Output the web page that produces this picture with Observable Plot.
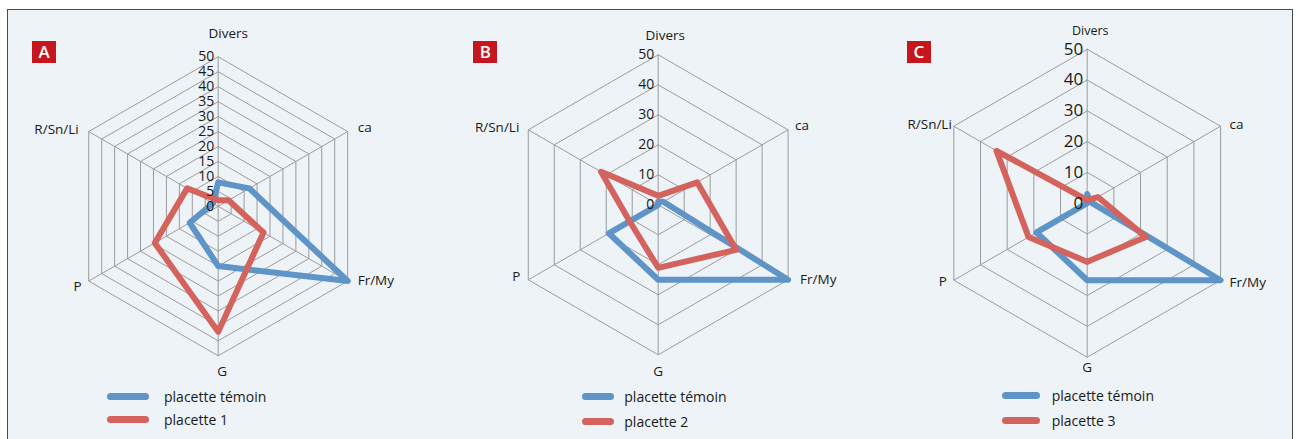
<!DOCTYPE html>
<html>
<head>
<meta charset="utf-8">
<script src="https://cdn.jsdelivr.net/npm/d3@7"></script>
<script src="https://cdn.jsdelivr.net/npm/@observablehq/plot@0.6"></script>
<style>
  body { margin: 0; background: #ffffff; font-family: "Open Sans", sans-serif; }
  #frame { position: absolute; left: 7px; top: 9px; width: 1284px; height: 440px;
           background: #eef3f7; border-top: 1.5px solid #4a4a4a; border-left: 1.5px solid #4a4a4a; border-right: 1.5px solid #4a4a4a; }
  .panel { position: absolute; top: 0; }
  .badge { position: absolute; width: 24px; height: 22px; background: #c4161c; color: #fff;
           font: 600 17px "Open Sans", sans-serif; text-align: center; line-height: 22px; }
  .leg { position: absolute; font: 14px "Open Sans", sans-serif; color: #1a1a1a; white-space: nowrap; }
  .sw { position: absolute; height: 7px; border-radius: 4px; }
</style>
</head>
<body>
<div id="root" style="position:relative;width:1298px;height:439px;overflow:hidden;">
  <div id="frame"></div>
</div>
<script>
// ---- data ----
const categories = ["Divers", "ca", "Fr/My", "G", "P", "R/Sn/Li"];
const temoinA   = [8, 12, 50, 20, 11, 2];
const placette1 = [2, 4, 17.5, 42, 24.5, 12];
const temoinB   = [1, 2, 50, 25, 19, 0];
const placette2 = [3, 15, 30, 21, 11, 22];
const temoinC   = [3, 1, 50, 25, 19, 0];
const placette3 = [1, 4, 22, 19, 22, 34];
const ticksA  = [0, 5, 10, 15, 20, 25, 30, 35, 40, 45, 50];
const ticksBC = [0, 10, 20, 30, 40, 50];
const seriesNames = ["placette témoin", "placette 1", "placette 2", "placette 3"];
const letters = ["A", "B", "C"];

// ---- layout / style ----
const blue = "#5e94c8", red = "#d4625d", ink = "#1a1a1a";
const panels = [
  { letter: letters[0], left: 0,   w: 432, cx: 216.7,  cy: 204.8, r: 149.5, ticks: ticksA,  tickSize: 14, divSize: 13.5,
    s1: temoinA, s2: placette1, n2: seriesNames[1],
    off: [[10,-23],[10,-4],[10,0],[4,16],[-7,6],[-10,-2]],
    badge: [32,41], sw: [106.7, 42, 396.7, 419.5], txt: 164 },
  { letter: letters[1], left: 432, w: 432, cx: 656.7,  cy: 203.3, r: 150,   ticks: ticksBC, tickSize: 14, divSize: 13.5,
    s1: temoinB, s2: placette2, n2: seriesNames[2],
    off: [[7,-19],[7,-4],[12,0],[0,17],[-8,-3],[-9,-2]],
    badge: [473.3,41], sw: [581.7, 32, 396.7, 421.7], txt: 624.3 },
  { letter: letters[2], left: 864, w: 434, cx: 1085.7, cy: 201.7, r: 154,   ticks: ticksBC, tickSize: 17, divSize: 12.5,
    s1: temoinC, s2: placette3, n2: seriesNames[3],
    off: [[3,-18],[9,-2],[9,2],[0,10],[-7,1],[-2,-2]],
    badge: [907,41], sw: [1001.7, 38, 395.7, 420.7], txt: 1051.7 }
];

const root = document.getElementById("root");
const angle = i => i * Math.PI / 3; // clockwise from top

function pts(values) {
  return values.map((v, i) => ({ x: v * Math.sin(angle(i)), y: v * Math.cos(angle(i)), cat: categories[i] }));
}

for (const p of panels) {
  const max = 50;
  const cxl = p.cx - p.left;
  const rings = [];
  for (const t of p.ticks) {
    if (t === 0) continue;
    for (let i = 0; i <= categories.length; i++) {
      const k = i % categories.length;
      rings.push({ ring: t, x: t * Math.sin(angle(k)), y: t * Math.cos(angle(k)) });
    }
  }
  const spokes = categories.map((c, i) => ({ x1: 0, y1: 0, x2: max * Math.sin(angle(i)), y2: max * Math.cos(angle(i)) }));
  const labels = categories.map((c, i) => ({
    text: c, x: max * Math.sin(angle(i)), y: max * Math.cos(angle(i)), dx: p.off[i][0], dy: p.off[i][1],
    anchor: (i === 0 || i === 3) ? "middle" : (i < 3 ? "start" : "end"), size: i === 0 ? p.divSize : 13.5
  }));
  const tickLabels = p.ticks.map(t => ({ t, x: 0, y: t }));

  const svg = Plot.plot({
    width: p.w, height: 439, margin: 0,
    style: { background: "transparent", overflow: "visible", fontFamily: "'Open Sans', sans-serif", color: ink },
    x: { domain: [-max, max], range: [cxl - p.r, cxl + p.r], axis: null },
    y: { domain: [-max, max], range: [p.cy - 9 + p.r, p.cy - 9 - p.r], axis: null },
    marks: [
      Plot.line(rings, { x: "x", y: "y", z: "ring", stroke: "#9b9b9b", strokeWidth: 1 }),
      Plot.link(spokes, { x1: "x1", y1: "y1", x2: "x2", y2: "y2", stroke: "#9b9b9b", strokeWidth: 1 }),
      Plot.line(pts(p.s1), { x: "x", y: "y", curve: "linear-closed", stroke: blue, strokeWidth: 6, strokeLinejoin: "round" }),
      Plot.line(pts(p.s2), { x: "x", y: "y", curve: "linear-closed", stroke: red, strokeWidth: 6, strokeLinejoin: "round" }),
      Plot.text(tickLabels, { x: "x", y: "y", text: d => String(d.t), textAnchor: "end", dx: -4, fontSize: p.tickSize, fill: ink }),
      ...labels.map(l => Plot.text([l], { x: "x", y: "y", text: "text", dx: l.dx, dy: l.dy, textAnchor: l.anchor, fontSize: l.size, fill: ink }))
    ]
  });
  svg.classList.add("panel");
  svg.style.left = (p.left - 7) + "px";
  document.getElementById("frame").appendChild(svg);

  const b = document.createElement("div");
  b.className = "badge"; b.textContent = p.letter;
  b.style.left = p.badge[0] + "px"; b.style.top = p.badge[1] + "px";
  root.appendChild(b);
  const items = [[seriesNames[0], blue, p.sw[2]], [p.n2, red, p.sw[3]]];
  for (const [name, col, y] of items) {
    const s = document.createElement("div");
    s.className = "sw"; s.style.background = col;
    s.style.left = p.sw[0] + "px"; s.style.width = p.sw[1] + "px"; s.style.top = (y - 3.5) + "px";
    root.appendChild(s);
    const t = document.createElement("div");
    t.className = "leg"; t.textContent = name;
    t.style.left = p.txt + "px"; t.style.top = (y - 10) + "px";
    root.appendChild(t);
  }
}
</script>
</body>
</html>
